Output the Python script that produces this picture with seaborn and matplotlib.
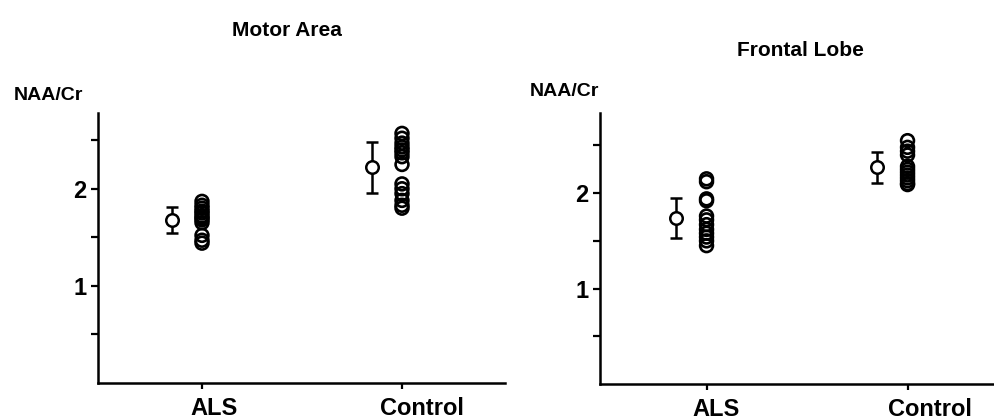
import matplotlib
matplotlib.use("Agg")
import matplotlib.pyplot as plt
from matplotlib.ticker import FixedLocator, NullFormatter
import seaborn as sns
import pandas as pd

sns.set_style("ticks")
plt.rcParams['font.family'] = ['Liberation Sans', 'DejaVu Sans']
plt.rcParams['font.weight'] = 'bold'
plt.rcParams['text.color'] = 'black'

groups = ['ALS', 'Control']

# individual NAA/Cr values
motor_als = [1.87, 1.83, 1.80, 1.77, 1.75, 1.72, 1.70, 1.68, 1.65, 1.52, 1.47, 1.44]
motor_control = [2.57, 2.52, 2.47, 2.43, 2.40, 2.37, 2.33, 2.25, 2.05, 2.00, 1.95, 1.88, 1.83, 1.80]
frontal_als = [2.15, 2.12, 1.94, 1.92, 1.76, 1.72, 1.67, 1.62, 1.58, 1.54, 1.50, 1.45]
frontal_control = [2.55, 2.48, 2.44, 2.40, 2.28, 2.25, 2.22, 2.19, 2.16, 2.13, 2.10, 2.09]

# group mean and SD as drawn
motor_mean = [1.68, 2.22]
motor_sd = [0.135, 0.26]
frontal_mean = [1.74, 2.27]
frontal_sd = [0.21, 0.16]


def make_frame(als, control):
    return pd.DataFrame({
        'pos': [0] * len(als) + [1] * len(control),
        'value': als + control,
    })


def draw_panel(ax, data, means, sds, ylim_top, xlim, label_shift):
    sns.scatterplot(data=data, x='pos', y='value', ax=ax, marker='o', s=85,
                    facecolors='none', edgecolor='black', linewidth=1.9,
                    legend=False, zorder=3)
    ax.errorbar([p - 0.15 for p in range(len(means))], means, yerr=sds,
                fmt='o', ms=9, mfc='white', mec='black', mew=1.8,
                ecolor='black', elinewidth=1.8, capsize=4, capthick=1.8, zorder=2)
    ax.set_xlim(*xlim)
    ax.set_ylim(0, ylim_top)
    # tick marks at the groups, labels set slightly to the right as in the figure
    ax.set_xticks([0, 1])
    ax.set_xticklabels([])
    ax.set_xticks([i + d for i, d in enumerate(label_shift)], minor=True)
    ax.set_xticklabels(groups, minor=True, fontsize=17, fontweight='bold')
    ax.tick_params(axis='x', which='minor', length=0, pad=10)
    ax.set_yticks([1, 2])
    ax.set_yticklabels(['1', '2'], fontsize=17, fontweight='bold')
    ax.yaxis.set_minor_locator(FixedLocator([0.5, 1.5, 2.5]))
    ax.yaxis.set_minor_formatter(NullFormatter())
    ax.tick_params(axis='y', which='both', direction='out', length=5, width=1.6)
    ax.tick_params(axis='x', which='major', direction='out', length=4, width=1.6)
    ax.tick_params(axis='both', which='both', colors='black')
    ax.set_xlabel('')
    ax.set_ylabel('')
    sns.despine(ax=ax)
    for s in ['left', 'bottom']:
        ax.spines[s].set_linewidth(1.8)
        ax.spines[s].set_color('black')


fig = plt.figure(figsize=(9.94, 4.2), dpi=100)
ax1 = fig.add_axes([98 / 994, 37 / 420, 407 / 994, 270 / 420])
ax2 = fig.add_axes([600 / 994, 36 / 420, 400 / 994, 271 / 420])

draw_panel(ax1, make_frame(motor_als, motor_control), motor_mean, motor_sd, 2.78,
           (-0.52, 1.515), [0.06, 0.10])
draw_panel(ax2, make_frame(frontal_als, frontal_control), frontal_mean, frontal_sd, 2.84,
           (-0.53, 1.46), [0.045, 0.11])

fig.text(287 / 994, 1 - 30 / 420, 'Motor Area', ha='center', va='center', fontsize=15, fontweight='bold')
fig.text(800 / 994, 1 - 50 / 420, 'Frontal Lobe', ha='center', va='center', fontsize=15, fontweight='bold')
fig.text(48 / 994, 1 - 95 / 420, 'NAA/Cr', ha='center', va='center', fontsize=14, fontweight='bold')
fig.text(564 / 994, 1 - 92 / 420, 'NAA/Cr', ha='center', va='center', fontsize=14, fontweight='bold')

fig.savefig('out.png', dpi=100)
